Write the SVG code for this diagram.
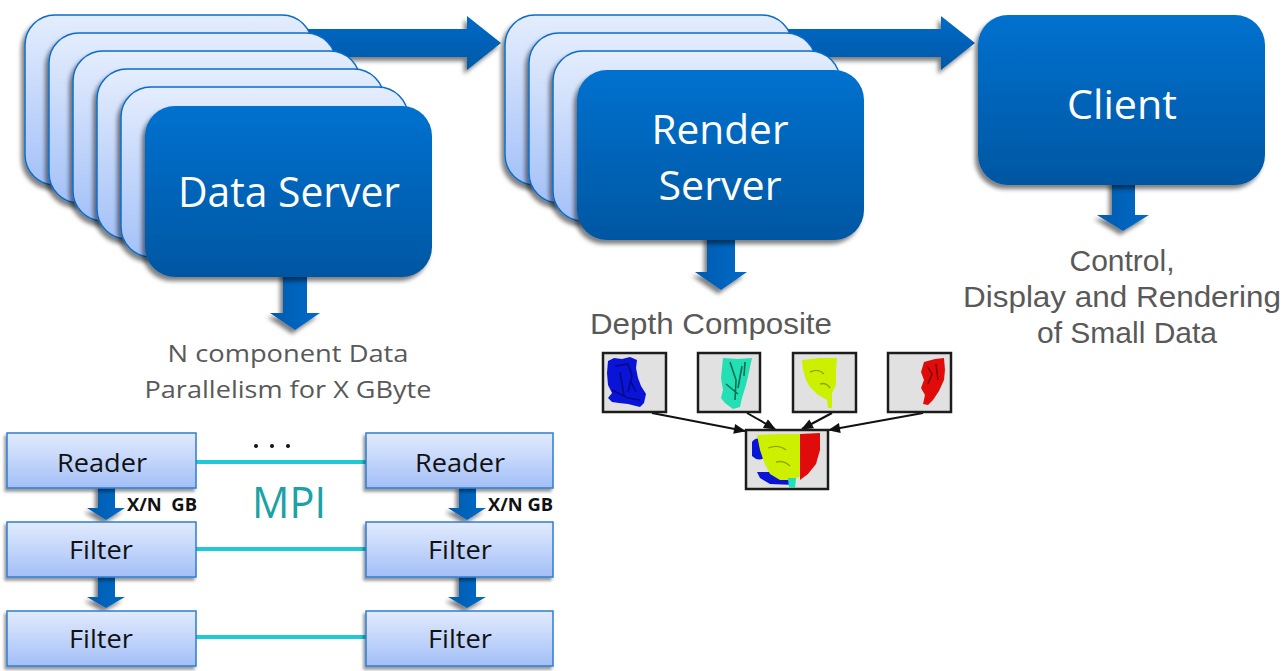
<svg xmlns="http://www.w3.org/2000/svg" width="1288" height="671" viewBox="0 0 1288 671">
  <defs>
    <linearGradient id="gBack" x1="0" y1="0" x2="0" y2="1">
      <stop offset="0" stop-color="#e4edfd"/>
      <stop offset="1" stop-color="#a4c1f8"/>
    </linearGradient>
    <linearGradient id="gFront" x1="0" y1="0" x2="0" y2="1">
      <stop offset="0" stop-color="#0071cf"/>
      <stop offset="1" stop-color="#0057a2"/>
    </linearGradient>
    <linearGradient id="gArrow" x1="0" y1="0" x2="0" y2="1">
      <stop offset="0" stop-color="#006ac7"/>
      <stop offset="1" stop-color="#0058a6"/>
    </linearGradient>
    <linearGradient id="gArrowV" x1="0" y1="0" x2="1" y2="0">
      <stop offset="0" stop-color="#005cae"/>
      <stop offset="1" stop-color="#006ac8"/>
    </linearGradient>
    <linearGradient id="gStage" x1="0" y1="0" x2="0" y2="1">
      <stop offset="0" stop-color="#e2ebfd"/>
      <stop offset="1" stop-color="#a3bff7"/>
    </linearGradient>
    <filter id="shadow" x="-10%" y="-10%" width="120%" height="130%">
      <feDropShadow dx="-3" dy="4" stdDeviation="2" flood-color="#000" flood-opacity="0.5"/>
    </filter>
    <filter id="shadowSm" x="-10%" y="-10%" width="120%" height="140%">
      <feDropShadow dx="-2" dy="3" stdDeviation="1.5" flood-color="#000" flood-opacity="0.4"/>
    </filter>
    <marker id="head" viewBox="0 0 12 10" refX="11" refY="5" markerWidth="13" markerHeight="10" markerUnits="userSpaceOnUse" orient="auto">
      <path d="M0 0 L12 5 L0 10 Z" fill="#111"/>
    </marker>
    <style>
      .back { fill: url(#gBack); stroke: #0b6cc6; stroke-width: 1.5; filter: url(#shadow); }
      .front { fill: url(#gFront); filter: url(#shadow); }
      .big { fill: url(#gArrow); filter: url(#shadow); }
      .down { fill: url(#gArrowV); filter: url(#shadow); }
      .stage { fill: url(#gStage); stroke: #2f7dd2; stroke-width: 1.5; filter: url(#shadowSm); }
      .lbl { font-family: "Open Sans", "DejaVu Sans", sans-serif; fill: #fff; text-anchor: middle; }
      .cap { font-family: "Liberation Sans", Arial, sans-serif; fill: #595959; text-anchor: middle; font-size: 30px; }
      .note { font-family: "Open Sans", "DejaVu Sans", sans-serif; fill: #595959; text-anchor: middle; font-size: 23px; }
      .stxt { font-family: "Open Sans", "DejaVu Sans", sans-serif; fill: #111; text-anchor: middle; font-size: 26px; }
      .gb { font-family: "Open Sans", "DejaVu Sans", sans-serif; fill: #111; font-weight: bold; font-size: 17px; }
      .mpi { stroke: #1fc9d5; stroke-width: 4; }
      .thin { stroke: #111; stroke-width: 2; fill: none; marker-end: url(#head); }
      .thumb { fill: #e1e1e1; stroke: #1c1c1c; stroke-width: 2.5; }
    </style>
  </defs>

  <rect width="1288" height="671" fill="#fff"/>

  <!-- connectors: block arrows, MPI links and composite arrows -->
  <g id="connectors">
    <path class="big" d="M300 29 H467 V16 L501 43 L467 70 V57 H300 Z"/>
    <path class="big" d="M780 29 H941 V16 L975 43 L941 70 V57 H780 Z"/>
    <path class="down" d="M283 270 V313 H270 L295 330 L320 313 H307 V270 Z"/>
    <path class="down" d="M707 235 V272 H695 L721 290 L747 272 H735 V235 Z"/>
    <path class="down" d="M1112 180 V215 H1097 L1123 231 L1149 215 H1135 V180 Z"/>

    <path class="down" d="M98 485 V508 H87 L106 520 L125 508 H115 V485 Z"/>
    <path class="down" d="M98 574 V597 H87 L106 608 L125 597 H115 V574 Z"/>
    <path class="down" d="M459 485 V508 H448 L467 520 L486 508 H476 V485 Z"/>
    <path class="down" d="M459 574 V597 H448 L467 608 L486 597 H476 V574 Z"/>

    <line class="mpi" x1="196" y1="462" x2="366" y2="462"/>
    <line class="mpi" x1="196" y1="549" x2="366" y2="549"/>
    <line class="mpi" x1="196" y1="637" x2="366" y2="637"/>

    <line class="thin" x1="652" y1="413" x2="745" y2="431"/>
    <line class="thin" x1="747" y1="413" x2="775" y2="429"/>
    <line class="thin" x1="832" y1="413" x2="802" y2="429"/>
    <line class="thin" x1="923" y1="413" x2="829" y2="430"/>
  </g>

  <!-- data server stack -->
  <g id="data-server">
    <rect class="back" x="25" y="15" width="287" height="170" rx="30"/>
    <rect class="back" x="49" y="33" width="287" height="170" rx="30"/>
    <rect class="back" x="73" y="51" width="287" height="170" rx="30"/>
    <rect class="back" x="97" y="69" width="287" height="170" rx="30"/>
    <rect class="back" x="121" y="87" width="287" height="170" rx="30"/>
    <rect class="front" x="145" y="106" width="287" height="171" rx="30"/>
    <text class="lbl" x="289" y="207" font-size="42" textLength="222" lengthAdjust="spacingAndGlyphs">Data Server</text>
  </g>

  <!-- render server stack -->
  <g id="render-server">
    <rect class="back" x="505" y="15" width="287" height="170" rx="30"/>
    <rect class="back" x="529" y="33" width="287" height="170" rx="30"/>
    <rect class="back" x="553" y="51" width="287" height="170" rx="30"/>
    <rect class="front" x="577" y="70" width="287" height="170" rx="30"/>
    <text class="lbl" x="720" y="144" font-size="41" textLength="137" lengthAdjust="spacingAndGlyphs">Render</text>
    <text class="lbl" x="720" y="200" font-size="41" textLength="123" lengthAdjust="spacingAndGlyphs">Server</text>
  </g>

  <!-- client -->
  <g id="client">
    <rect class="front" x="978" y="15" width="287" height="170" rx="30"/>
    <text class="lbl" x="1122" y="119" font-size="40" textLength="110" lengthAdjust="spacingAndGlyphs">Client</text>
  </g>

  <g id="client-caption">
    <text class="cap" x="1122" y="271">Control,</text>
    <text class="cap" x="1122" y="307" textLength="318" lengthAdjust="spacingAndGlyphs">Display and Rendering</text>
    <text class="cap" x="1127" y="343">of Small Data</text>
  </g>

  <g id="data-caption">
    <text class="note" x="288" y="362" textLength="241" lengthAdjust="spacingAndGlyphs">N component Data</text>
    <text class="note" x="288" y="398" textLength="287" lengthAdjust="spacingAndGlyphs">Parallelism for X GByte</text>
  </g>

  <!-- depth composite -->
  <g id="depth-composite">
    <text class="cap" x="711" y="334" textLength="242" lengthAdjust="spacingAndGlyphs">Depth Composite</text>

    <g id="part-blue">
      <rect class="thumb" x="603" y="353" width="63" height="59"/>
      <path d="M608 361 L614 358 L622 359 L630 357 L637 360 L636 368 L638 378 L641 386 L646 394 L644 403 L640 407 L632 405 L628 404 L619 403 L612 402 L608 398 L612 393 L608 385 L607 373 Z" fill="#0a14d8"/>
      <path d="M615 366 L628 364 L632 376 L628 392 M620 372 L624 396 M612 390 L628 398 L640 400 M630 380 L636 392" stroke="#050a80" stroke-width="1.6" fill="none"/>
    </g>

    <g id="part-teal">
      <rect class="thumb" x="698" y="353" width="62" height="59"/>
      <path d="M723 358 L738 359 L752 358 L749 372 L746 385 L742 398 L740 407 L733 409 L725 403 L721 398 L723 390 L721 378 Z" fill="#22e0b4"/>
      <path d="M730 362 L736 380 L735 400 M742 366 L738 388 M726 384 L738 394 M745 362 L744 376" stroke="#0b6e54" stroke-width="1.6" fill="none"/>
    </g>

    <g id="part-yellow">
      <rect class="thumb" x="793" y="353" width="63" height="59"/>
      <path d="M802 360 L820 358 L837 358 L836 372 L836 385 L832 393 L832 408 L828 408 L827 400 L817 394 L810 387 L806 380 L803 370 Z" fill="#ccf000"/>
      <path d="M810 372 Q818 368 824 374 M820 384 Q826 382 830 388" stroke="#8fa800" stroke-width="1.4" fill="none"/>
    </g>

    <g id="part-red">
      <rect class="thumb" x="888" y="353" width="63" height="59"/>
      <path d="M924 362 L935 359 L944 358 L945 370 L944 380 L939 391 L933 400 L928 405 L923 404 L925 395 L921 388 L924 380 L921 372 Z" fill="#e00c0c"/>
      <path d="M927 366 L932 374 L928 384 M936 364 L938 380" stroke="#7a0000" stroke-width="1.4" fill="none"/>
    </g>

    <g id="composite">
      <rect class="thumb" x="746" y="430" width="82" height="59"/>
      <path d="M752 442 Q756 436 762 440 L764 458 Q758 462 752 456 Z" fill="#0a14d8"/>
      <path d="M757 472 L770 472 L790 481 L795 485 L770 484 L760 478 Z" fill="#0a14d8"/>
      <path d="M757 435 L780 434 L801 434 L801 476 L792 480 L780 480 L770 474 L764 462 L760 450 Z" fill="#ccf000"/>
      <path d="M800 434 L820 433 L820 450 L816 464 L808 474 L800 480 Z" fill="#e00c0c"/>
      <path d="M788 478 L796 478 L795 488 L789 488 Z" fill="#22e0b4"/>
      <path d="M768 448 Q778 444 786 450 M776 462 Q784 460 790 466" stroke="#8fa800" stroke-width="1.3" fill="none"/>
    </g>
  </g>

  <!-- pipeline stages -->
  <g id="reader-1">
    <rect class="stage" x="7" y="433" width="189" height="55"/>
    <text class="stxt" x="102" y="472" textLength="90" lengthAdjust="spacingAndGlyphs">Reader</text>
  </g>
  <g id="filter-1a">
    <rect class="stage" x="7" y="522" width="189" height="55"/>
    <text class="stxt" x="101" y="559" textLength="64" lengthAdjust="spacingAndGlyphs">Filter</text>
  </g>
  <g id="filter-1b">
    <rect class="stage" x="7" y="611" width="189" height="55"/>
    <text class="stxt" x="101" y="648" textLength="64" lengthAdjust="spacingAndGlyphs">Filter</text>
  </g>
  <g id="reader-n">
    <rect class="stage" x="366" y="433" width="187" height="55"/>
    <text class="stxt" x="460" y="472" textLength="90" lengthAdjust="spacingAndGlyphs">Reader</text>
  </g>
  <g id="filter-na">
    <rect class="stage" x="366" y="522" width="187" height="55"/>
    <text class="stxt" x="460" y="559" textLength="64" lengthAdjust="spacingAndGlyphs">Filter</text>
  </g>
  <g id="filter-nb">
    <rect class="stage" x="366" y="611" width="187" height="55"/>
    <text class="stxt" x="460" y="648" textLength="64" lengthAdjust="spacingAndGlyphs">Filter</text>
  </g>

  <g id="link-labels">
    <text class="gb" x="127" y="511" textLength="70" lengthAdjust="spacingAndGlyphs" xml:space="preserve">X/N  GB</text>
    <text class="gb" x="488" y="511" textLength="65" lengthAdjust="spacingAndGlyphs">X/N GB</text>
    <circle cx="256" cy="446" r="2" fill="#111"/>
    <circle cx="272" cy="446" r="2" fill="#111"/>
    <circle cx="288" cy="446" r="2" fill="#111"/>
    <text x="289" y="518" font-family="'Open Sans', 'DejaVu Sans', sans-serif" font-size="44" fill="#1aa3a6" text-anchor="middle" textLength="74" lengthAdjust="spacingAndGlyphs">MPI</text>
  </g>
</svg>
